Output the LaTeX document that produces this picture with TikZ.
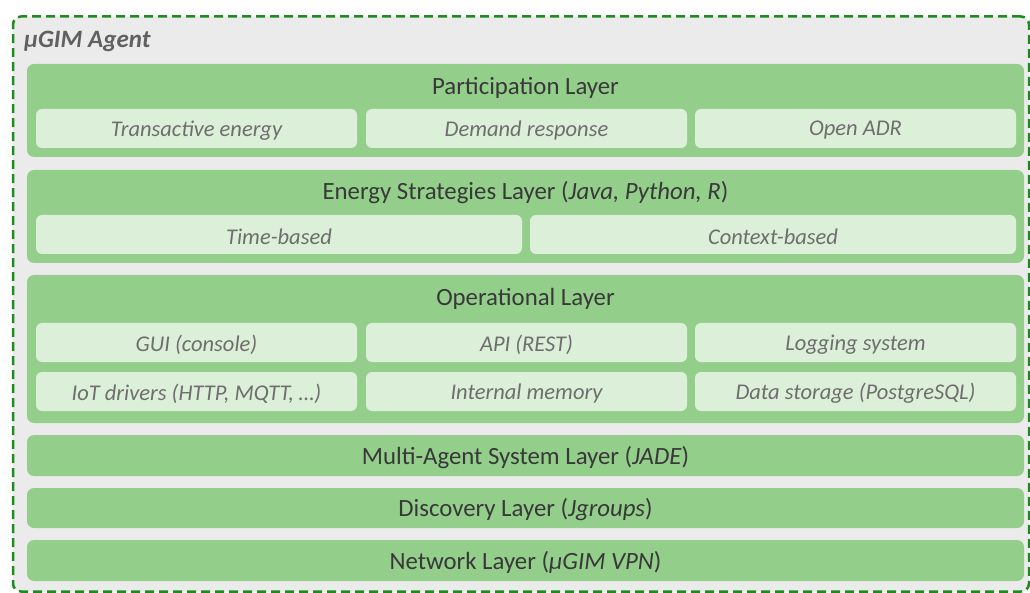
\documentclass[tikz,border=0pt]{standalone}
\usepackage{fontspec}
\setmainfont{Carlito}
\definecolor{bggray}{HTML}{EBEBEB}
\definecolor{dashgreen}{HTML}{1E8B1E}
\definecolor{layergreen}{HTML}{93CF8B}
\definecolor{subgreen}{HTML}{DCEFD8}
\definecolor{titletext}{HTML}{383838}
\definecolor{subtext}{HTML}{6E6E6E}
\definecolor{agenttext}{HTML}{606060}
\tikzset{
  layerbox/.style={rectangle, rounded corners=7pt, fill=layergreen, draw=none, inner sep=0pt},
  subbox/.style={rectangle, rounded corners=6pt, fill=subgreen, draw=none, inner sep=0pt},
  subtxt/.style={inner sep=0pt, yshift=-2pt, font=\fontsize{22.5}{24}\selectfont\itshape, text=subtext},
  titletxt/.style={font=\fontsize{24.8}{26}\selectfont, text=titletext, inner sep=0pt, yshift=-2pt},
}
\newcommand{\bx}[6]{% name, style, x1, y1, x2, y2
  \node[#2, minimum width={#5-#3}, minimum height={#6-#4}] (#1) at ({(#3+#5)/2},{(#4+#6)/2}) {};}
\begin{document}
\begin{tikzpicture}[x=1pt,y=-1pt]
\useasboundingbox (0,0) rectangle (1030,593);
% outer agent box
\node[rectangle, rounded corners=8pt, fill=bggray, draw=dashgreen, line width=2.5pt,
  dash pattern=on 9pt off 5pt, minimum width=1016pt, minimum height=575pt, inner sep=0pt]
  (agent) at (521,304) {};
\node[anchor=west, font=\fontsize{25}{27}\selectfont\bfseries\itshape, text=agenttext, inner sep=0pt]
  (agentlabel) at (24,41) {µGIM Agent};
% Participation layer
\bx{part}{layerbox}{27}{64}{1024}{157}
\node[titletxt] (parttitle) at (525.5,86) {Participation Layer};
\bx{p1}{subbox}{36}{109}{357}{148}
\bx{p2}{subbox}{366}{109}{687}{148}
\bx{p3}{subbox}{695}{109}{1016}{148}
\node[subtxt] at (p1) {Transactive energy};
\node[subtxt] at (p2) {Demand response};
\node[subtxt] at (p3) {Open ADR};
% Energy strategies layer
\bx{ener}{layerbox}{27}{170}{1024}{263}
\node[titletxt] (enertitle) at (525.5,191) {Energy Strategies Layer (\textit{Java, Python, R})};
\bx{e1}{subbox}{36}{215}{522}{254}
\bx{e2}{subbox}{530}{215}{1016}{254}
\node[subtxt] at (e1) {Time-based};
\node[subtxt] at (e2) {Context-based};
% Operational layer
\bx{oper}{layerbox}{27}{275}{1024}{423}
\node[titletxt] (opertitle) at (525.5,297) {Operational Layer};
\bx{o1}{subbox}{36}{323}{357}{362}
\bx{o2}{subbox}{366}{323}{687}{362}
\bx{o3}{subbox}{695}{323}{1016}{362}
\bx{o4}{subbox}{36}{372}{357}{411}
\bx{o5}{subbox}{366}{372}{687}{411}
\bx{o6}{subbox}{695}{372}{1016}{411}
\node[subtxt] at (o1) {GUI (console)};
\node[subtxt] at (o2) {API (REST)};
\node[subtxt] at (o3) {Logging system};
\node[subtxt] at (o4) {IoT drivers (HTTP, MQTT, …)};
\node[subtxt] at (o5) {Internal memory};
\node[subtxt] at (o6) {Data storage (PostgreSQL)};
% MAS layer
\bx{mas}{layerbox}{27}{435}{1024}{476}
\node[titletxt] at (mas) {Multi-Agent System Layer (\textit{JADE})};
% Discovery layer
\bx{disc}{layerbox}{27}{488}{1024}{528}
\node[titletxt] at (disc) {Discovery Layer (\textit{Jgroups})};
% Network layer
\bx{net}{layerbox}{27}{540}{1024}{581}
\node[titletxt] at (net) {Network Layer (\textit{µGIM VPN})};
\end{tikzpicture}
\end{document}
